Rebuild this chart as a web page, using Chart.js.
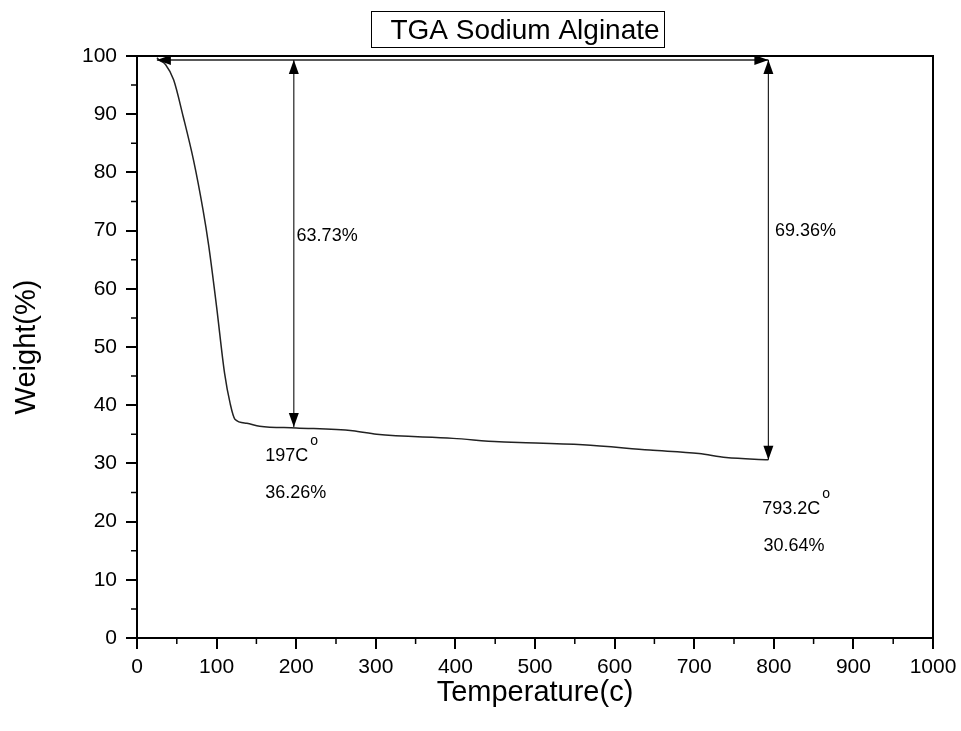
<!DOCTYPE html>
<html>
<head>
<meta charset="utf-8">
<script src="https://cdn.jsdelivr.net/npm/chart.js@4.4.1/dist/chart.umd.min.js"></script>
<style>
  html, body { margin:0; padding:0; background:#fff; }
  #wrap { width:961px; height:731px; }
</style>
</head>
<body>
<div id="wrap"><canvas id="c" width="961" height="731"></canvas></div>
<script>
// TGA curve
const temperature = [25, 28, 36, 46, 58, 71, 83, 90, 100, 110, 117, 123, 138, 154, 200, 271, 301, 397, 455, 480, 560, 644, 706, 740, 793.2];
const weight      = [99.7, 99.3, 98.5, 95.9, 89.6, 82.1, 73.5, 67.5, 56.9, 45.5, 40.3, 37.6, 36.9, 36.4, 36.1, 35.6, 35.0, 34.3, 33.7, 33.6, 33.2, 32.3, 31.7, 31.0, 30.64];
const xTicks = [0, 100, 200, 300, 400, 500, 600, 700, 800, 900, 1000];
const yTicks = [0, 10, 20, 30, 40, 50, 60, 70, 80, 90, 100];
const topLevel = 99.3;
const marks = [ {t:197, w:36.26, loss:'63.73%'}, {t:793.2, w:30.64, loss:'69.36%'} ];

const FONT = '"Liberation Sans", Arial, sans-serif';

function arrowHead(ctx, x, y, dir){
  const L = 14, W = 5;
  ctx.beginPath();
  ctx.moveTo(x, y);
  if (dir==='up'){ ctx.lineTo(x-W, y+L); ctx.lineTo(x+W, y+L); }
  if (dir==='down'){ ctx.lineTo(x-W, y-L); ctx.lineTo(x+W, y-L); }
  if (dir==='left'){ ctx.lineTo(x+L, y-W); ctx.lineTo(x+L, y+W); }
  if (dir==='right'){ ctx.lineTo(x-L, y-W); ctx.lineTo(x-L, y+W); }
  ctx.closePath(); ctx.fill();
}

const extras = {
  id:'extras',
  afterDraw(chart){
    const ctx = chart.ctx, xs = chart.scales.x, ys = chart.scales.y, a = chart.chartArea;
    ctx.save();
    // frame top/right
    ctx.strokeStyle = '#000'; ctx.lineWidth = 2;
    ctx.beginPath();
    ctx.moveTo(a.left, a.top); ctx.lineTo(a.right, a.top); ctx.lineTo(a.right, a.bottom);
    ctx.stroke();
    // minor ticks
    ctx.lineWidth = 1.5;
    ctx.beginPath();
    for (let v=50; v<1000; v+=100){ const px = xs.getPixelForValue(v); ctx.moveTo(px, a.bottom); ctx.lineTo(px, a.bottom+6); }
    for (let v=5; v<100; v+=10){ const py = ys.getPixelForValue(v); ctx.moveTo(a.left, py); ctx.lineTo(a.left-6, py); }
    ctx.stroke();
    // horizontal double arrow
    ctx.fillStyle = '#000'; ctx.strokeStyle = '#222'; ctx.lineWidth = 1.5;
    const yTop = ys.getPixelForValue(topLevel);
    const x0 = xs.getPixelForValue(temperature[0]), x1 = xs.getPixelForValue(marks[1].t);
    ctx.beginPath(); ctx.moveTo(x0, yTop); ctx.lineTo(x1, yTop); ctx.stroke();
    arrowHead(ctx, x0, yTop, 'left'); arrowHead(ctx, x1, yTop, 'right');
    // vertical arrows
    ctx.lineWidth = 1.2;
    marks.forEach(m=>{
      const px = xs.getPixelForValue(m.t), pb = ys.getPixelForValue(m.w);
      ctx.beginPath(); ctx.moveTo(px, yTop); ctx.lineTo(px, pb); ctx.stroke();
      arrowHead(ctx, px, yTop, 'up'); arrowHead(ctx, px, pb, 'down');
    });
    // labels
    ctx.fillStyle = '#000'; ctx.textBaseline = 'middle'; ctx.textAlign = 'left';
    const lab = (t, x, y) => { ctx.font = '18px ' + FONT; ctx.fillText(t, xs.getPixelForValue(x), ys.getPixelForValue(y)); };
    const temp = (t, x, y) => {
      const px = xs.getPixelForValue(x), py = ys.getPixelForValue(y);
      ctx.font = '18px ' + FONT; ctx.fillText(t, px, py);
      const w = ctx.measureText(t).width;
      ctx.font = '14px ' + FONT; ctx.fillText('o', px + w + 2, py - 15);
    };
    lab(marks[0].loss, 200.5, 69.1);
    lab(marks[1].loss, 801.5, 69.9);
    temp(marks[0].t + 'C', 161, 31.3);
    lab(marks[0].w.toFixed(2) + '%', 161, 24.9);
    temp(marks[1].t.toFixed(1) + 'C', 785.5, 22.2);
    lab(marks[1].w.toFixed(2) + '%', 787, 15.8);
    // title box
    ctx.font = '28px ' + FONT; ctx.textAlign = 'center';
    ctx.fillText('TGA Sodium Alginate', 525, 31);
    ctx.strokeStyle = '#000'; ctx.lineWidth = 1;
    ctx.strokeRect(371.5, 11.5, 293, 36);
    ctx.restore();
  }
};

new Chart(document.getElementById('c'), {
  type:'scatter',
  data:{ datasets:[{
    data: temperature.map((t,i)=>({x:t, y:weight[i]})),
    showLine:true, pointRadius:0, borderColor:'#222', borderWidth:1.5,
    cubicInterpolationMode:'monotone'
  }]},
  options:{
    responsive:false, animation:false,
    layout:{ padding:{ top:56, right:28, left:0, bottom:19 } },
    plugins:{ legend:{display:false}, tooltip:{enabled:false} },
    scales:{
      x:{
        type:'linear', min:0, max:1000,
        afterFit(s){ s.height = 74; s.paddingRight = 0; s.paddingLeft = 0; },
        afterBuildTicks(s){ s.ticks = xTicks.map(v=>({value:v})); },
        border:{ color:'#000', width:2 },
        grid:{ drawOnChartArea:false, color:'#000', lineWidth:2, tickLength:11 },
        ticks:{ color:'#000', font:{ family:FONT, size:21 }, padding:6, maxRotation:0, callback:v=>String(v) },
        title:{ display:true, text:'Temperature(c)', color:'#000', font:{ family:FONT, size:29 }, padding:{top:0, bottom:2} }
      },
      y:{
        type:'linear', min:0, max:100,
        afterFit(s){ s.width = 137; },
        afterBuildTicks(s){ s.ticks = yTicks.map(v=>({value:v})); },
        border:{ color:'#000', width:2 },
        grid:{ drawOnChartArea:false, color:'#000', lineWidth:2, tickLength:11 },
        ticks:{ color:'#000', font:{ family:FONT, size:21 }, padding:9, callback:v=>String(v) },
        title:{ display:true, text:'Weight(%)', color:'#000', font:{ family:FONT, size:29 }, padding:{top:10, bottom:0} }
      }
    }
  },
  plugins:[extras]
});
</script>
</body>
</html>
